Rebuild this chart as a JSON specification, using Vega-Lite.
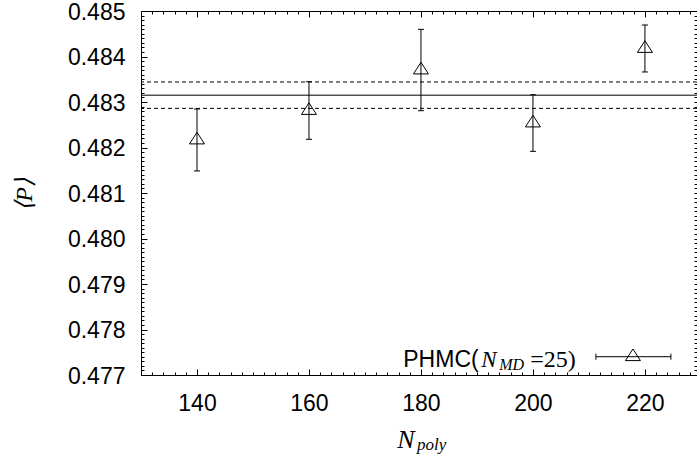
{
  "$schema": "https://vega.github.io/schema/vega-lite/v6.json",
  "width": 556,
  "height": 364,
  "autosize": "none",
  "padding": {"left": 141, "top": 11, "right": 0, "bottom": 81},
  "config": {
    "view": {"stroke": null},
    "axis": {"grid": false, "labelFont": "Liberation Sans", "labelFontSize": 23, "labelColor": "black", "tickColor": "black", "domainColor": "black", "titleColor": "black", "gridColor": "black", "gridOpacity": 1, "gridWidth": 1, "tickWidth": 1, "domainWidth": 1, "labelOverlap": false, "labelFlush": false}
  },
  "datasets": {
    "points": [
      {"N": 140, "P": 0.482165, "lo": 0.481484, "hi": 0.482846},
      {"N": 160, "P": 0.482813, "lo": 0.48218, "hi": 0.483446},
      {"N": 180, "P": 0.483703, "lo": 0.482809, "hi": 0.484597},
      {"N": 200, "P": 0.482538, "lo": 0.481916, "hi": 0.48316},
      {"N": 220, "P": 0.484176, "lo": 0.48366, "hi": 0.484692}
    ],
    "levels": [
      {"P": 0.48315, "kind": "mean"},
      {"P": 0.48344, "kind": "bound"},
      {"P": 0.48286, "kind": "bound"}
    ],
    "legend": [
      {"label": "PHMC(N_MD=25)"}
    ]
  },
  "data": {"name": "points"},
  "layer": [
    {
      "mark": {"type": "rule", "color": "black", "strokeWidth": 1},
      "encoding": {
        "x": {"field": "N", "type": "quantitative", "scale": {"domain": [130, 229.3], "nice": false, "zero": false},
          "axis": {"orient": "bottom",
            "values": [132, 134, 136, 138, 140, 142, 144, 146, 148, 150, 152, 154, 156, 158, 160, 162, 164, 166, 168, 170, 172, 174, 176, 178, 180, 182, 184, 186, 188, 190, 192, 194, 196, 198, 200, 202, 204, 206, 208, 210, 212, 214, 216, 218, 220, 222, 224, 226, 228],
            "labelExpr": "datum.value % 20 === 0 ? datum.label : ''",
            "ticks": false, "domain": true, "labelPadding": 17, "format": "d",
            "grid": true, "gridDash": [3, 358],
            "title": "N", "titleFont": "Liberation Serif", "titleFontStyle": "italic", "titleFontWeight": "normal", "titleFontSize": 26,
            "titleX": 255.7, "titleY": 72.3, "titleAlign": "left", "titleBaseline": "alphabetic", "titleAngle": 0}},
        "y": {"field": "lo", "type": "quantitative", "scale": {"domain": [0.477, 0.485], "nice": false, "zero": false},
          "axis": {"orient": "left",
            "values": [0.477, 0.478, 0.479, 0.48, 0.481, 0.482, 0.483, 0.484, 0.485],
            "ticks": false, "domain": true, "labelPadding": 16, "labelOffset": 1, "format": ".3f",
            "grid": true, "gridDash": [6, 2000],
            "title": "⟨P⟩", "titleFont": "Liberation Serif", "titleFontStyle": "italic", "titleFontWeight": "normal", "titleFontSize": 24,
            "titleX": -117, "titleY": 183, "titleAngle": -90, "titleAlign": "center", "titleBaseline": "middle"}},
        "y2": {"field": "hi"}
      }
    },
    {
      "mark": {"type": "point", "shape": "M-1,0H1", "size": 36, "filled": false, "color": "black", "strokeWidth": 1, "opacity": 1},
      "encoding": {
        "x": {"field": "N", "type": "quantitative", "axis": null},
        "y": {"field": "lo", "type": "quantitative", "axis": null}
      }
    },
    {
      "mark": {"type": "point", "shape": "M-1,0H1", "size": 36, "filled": false, "color": "black", "strokeWidth": 1, "opacity": 1},
      "encoding": {
        "x": {"field": "N", "type": "quantitative", "axis": null},
        "y": {"field": "hi", "type": "quantitative", "axis": null}
      }
    },
    {
      "mark": {"type": "point", "shape": "M0,-1.03L1,0.52L-1,0.52Z", "size": 225, "filled": false, "color": "black", "strokeWidth": 1, "opacity": 1},
      "encoding": {
        "x": {"field": "N", "type": "quantitative",
          "axis": {"orient": "top", "values": [140, 160, 180, 200, 220],
            "labels": false, "domain": true, "ticks": false, "title": null,
            "grid": true, "gridDash": [6, 352]}},
        "y": {"field": "P", "type": "quantitative",
          "axis": {"orient": "right",
            "values": [0.4771, 0.4772, 0.4773, 0.4774, 0.4775, 0.4776, 0.4777, 0.4778, 0.4779, 0.478, 0.4781, 0.4782, 0.4783, 0.4784, 0.4785, 0.4786, 0.4787, 0.4788, 0.4789, 0.479, 0.4791, 0.4792, 0.4793, 0.4794, 0.4795, 0.4796, 0.4797, 0.4798, 0.4799, 0.48, 0.4801, 0.4802, 0.4803, 0.4804, 0.4805, 0.4806, 0.4807, 0.4808, 0.4809, 0.481, 0.4811, 0.4812, 0.4813, 0.4814, 0.4815, 0.4816, 0.4817, 0.4818, 0.4819, 0.482, 0.4821, 0.4822, 0.4823, 0.4824, 0.4825, 0.4826, 0.4827, 0.4828, 0.4829, 0.483, 0.4831, 0.4832, 0.4833, 0.4834, 0.4835, 0.4836, 0.4837, 0.4838, 0.4839, 0.484, 0.4841, 0.4842, 0.4843, 0.4844, 0.4845, 0.4846, 0.4847, 0.4848, 0.4849],
            "labels": false, "domain": false, "ticks": false, "title": null,
            "grid": true, "gridDash": [3, 550]}}
      }
    },
    {
      "data": {"name": "levels"},
      "mark": {"type": "rule", "color": "black", "strokeWidth": 1},
      "encoding": {
        "y": {"field": "P", "type": "quantitative", "axis": null},
        "strokeDash": {"field": "kind", "type": "nominal", "scale": {"domain": ["mean", "bound"], "range": [[1, 0], [4, 3]]}, "legend": null}
      }
    },
    {
      "data": {"name": "legend"},
      "mark": {"type": "rule", "color": "black", "strokeWidth": 1},
      "encoding": {
        "x": {"datum": 211.25, "type": "quantitative", "axis": null},
        "x2": {"datum": 224.64},
        "y": {"datum": 0.477402, "type": "quantitative", "axis": null}
      }
    },
    {
      "data": {"name": "legend"},
      "mark": {"type": "point", "shape": "M0,-1V1", "size": 36, "filled": false, "color": "black", "strokeWidth": 1, "opacity": 1},
      "encoding": {
        "x": {"datum": 211.25, "type": "quantitative",
          "axis": {"orient": "bottom", "labels": false, "ticks": false, "domain": false, "values": [],
            "title": "poly", "titleFont": "Liberation Serif", "titleFontStyle": "italic", "titleFontWeight": "normal", "titleFontSize": 17,
            "titleX": 275.5, "titleY": 74, "titleAlign": "left", "titleBaseline": "alphabetic", "titleAngle": 0}},
        "y": {"datum": 0.477402, "type": "quantitative", "axis": null}
      }
    },
    {
      "data": {"name": "legend"},
      "mark": {"type": "point", "shape": "M0,-1V1", "size": 36, "filled": false, "color": "black", "strokeWidth": 1, "opacity": 1},
      "encoding": {
        "x": {"datum": 224.64, "type": "quantitative", "axis": null},
        "y": {"datum": 0.477402, "type": "quantitative", "axis": null}
      }
    },
    {
      "data": {"name": "legend"},
      "mark": {"type": "point", "shape": "M0,-1.03L1,0.52L-1,0.52Z", "size": 225, "filled": false, "color": "black", "strokeWidth": 1, "opacity": 1},
      "encoding": {
        "x": {"datum": 217.86, "type": "quantitative", "axis": null},
        "y": {"datum": 0.477402, "type": "quantitative", "axis": null}
      }
    },
    {
      "data": {"name": "legend"},
      "mark": {"type": "text", "text": "PHMC(", "font": "Liberation Sans", "fontSize": 23, "fontWeight": "normal", "align": "left", "baseline": "alphabetic", "color": "black"},
      "encoding": {
        "x": {"datum": 176.84, "type": "quantitative", "axis": null},
        "y": {"datum": 0.47718, "type": "quantitative", "axis": null}
      }
    },
    {
      "data": {"name": "legend"},
      "mark": {"type": "text", "text": "N", "font": "Liberation Serif", "fontStyle": "italic", "fontWeight": "normal", "fontSize": 23, "align": "left", "baseline": "alphabetic", "color": "black", "dx": 78},
      "encoding": {
        "x": {"datum": 176.84, "type": "quantitative", "axis": null},
        "y": {"datum": 0.47718, "type": "quantitative", "axis": null}
      }
    },
    {
      "data": {"name": "legend"},
      "mark": {"type": "text", "text": "MD", "font": "Liberation Serif", "fontStyle": "italic", "fontWeight": "normal", "fontSize": 16, "align": "left", "baseline": "alphabetic", "color": "black", "dx": 96, "dy": 3.5},
      "encoding": {
        "x": {"datum": 176.84, "type": "quantitative", "axis": null},
        "y": {"datum": 0.47718, "type": "quantitative", "axis": null}
      }
    },
    {
      "data": {"name": "legend"},
      "mark": {"type": "text", "text": "=25)", "font": "Liberation Serif", "fontWeight": "normal", "fontSize": 24, "align": "left", "baseline": "alphabetic", "color": "black", "dx": 127},
      "encoding": {
        "x": {"datum": 176.84, "type": "quantitative", "axis": null},
        "y": {"datum": 0.47718, "type": "quantitative", "axis": null}
      }
    }
  ],
  "resolve": {"axis": {"x": "independent", "y": "independent"}}
}
